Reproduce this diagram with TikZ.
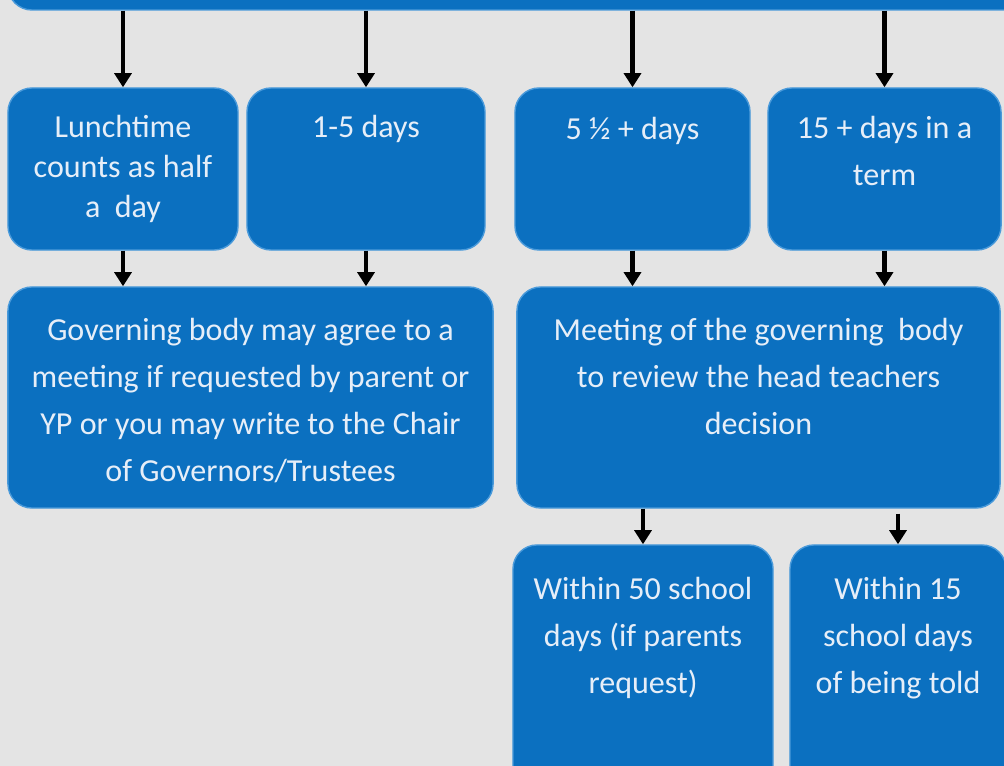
\documentclass[tikz,border=0pt]{standalone}
\usepackage{fontspec}
\setmainfont{Carlito}
\usetikzlibrary{arrows.meta}

\definecolor{bggrey}{HTML}{E4E4E4}
\definecolor{boxblue}{HTML}{0B70C0}
\definecolor{boxedge}{HTML}{4A9ADA}
\definecolor{boxtext}{HTML}{E6EEF8}

\tikzset{
  box/.style={draw=boxedge, line width=1pt, fill=boxblue, rounded corners=0.6cm, inner sep=0pt},
  lbl/.style={anchor=north, align=center, text=boxtext, inner sep=0pt,
    font=\fontsize{22.8}{33.4}\selectfont},
  arr/.style={-{Triangle[width=12pt,length=10pt]}, line width=3pt, black},
}

\begin{document}
\begin{tikzpicture}[x=0.025cm, y=-0.025cm]
  \useasboundingbox (0,0) rectangle (1004,766);
  \fill[bggrey] (0,0) rectangle (1004,766);
  \clip (0,0) rectangle (1004,766);

  % top bar (cut off)
  \node[box, minimum width=25.8cm, minimum height=1.25cm] (top) at (524,-15) {};

  % first row
  \node[box, minimum width=5.75cm, minimum height=4.05cm] (lunch) at (123,169) {};
  \node[box, minimum width=5.95cm, minimum height=4.05cm] (short) at (366,169) {};
  \node[box, minimum width=5.875cm, minimum height=4.05cm] (long) at (632.5,169) {};
  \node[box, minimum width=5.825cm, minimum height=4.05cm] (term) at (884.5,169) {};

  \node[lbl, font=\fontsize{22.8}{28.5}\selectfont] (lunch-t) at ([yshift=-0.68cm]lunch.north) {Lunchtime\\counts as half\\a~~day};
  \node[lbl] (short-t) at ([yshift=-0.68cm]short.north) {1-5 days};
  \node[lbl] (long-t) at ([yshift=-0.75cm]long.north) {5 ½ + days};
  \node[lbl] (term-t) at ([yshift=-0.72cm]term.north) {15 + days in a\\term};

  % second row
  \node[box, minimum width=12.125cm, minimum height=5.525cm] (gov) at (250.5,397.5) {};
  \node[box, minimum width=12.075cm, minimum height=5.525cm] (review) at (758.5,397.5) {};

  \node[lbl] (gov-t) at ([yshift=-0.8cm]gov.north) {Governing body may agree to a\\meeting if requested by parent or\\YP or you may write to the Chair\\of Governors/Trustees};
  \node[lbl] (review-t) at ([yshift=-0.8cm]review.north) {Meeting of the governing~ body\\to review the head teachers\\decision};

  % third row (cut off)
  \node[box, minimum width=6.5cm, minimum height=6.375cm] (fifty) at (643,672.5) {};
  \node[box, minimum width=5.4cm, minimum height=6.375cm] (fifteen) at (898,672.5) {};

  \node[lbl] (fifty-t) at ([yshift=-0.82cm]fifty.north) {Within 50 school\\days (if parents\\request)};
  \node[lbl] (fifteen-t) at ([yshift=-0.82cm]fifteen.north) {Within 15\\school days\\of being told};

  % arrows
  \foreach \n in {lunch, short, long, term}
    \draw[arr] (top.south -| \n.north) -- (\n.north);
  \draw[arr] (lunch.south) -- (lunch.south |- gov.north);
  \draw[arr] (short.south) -- (short.south |- gov.north);
  \draw[arr] (long.south) -- (long.south |- review.north);
  \draw[arr] (term.south) -- (term.south |- review.north);
  \draw[arr] (review.south -| fifty.north) -- (fifty.north);
  \draw[arr] ([yshift=-0.12cm]review.south -| fifteen.north) -- (fifteen.north);
\end{tikzpicture}
\end{document}
